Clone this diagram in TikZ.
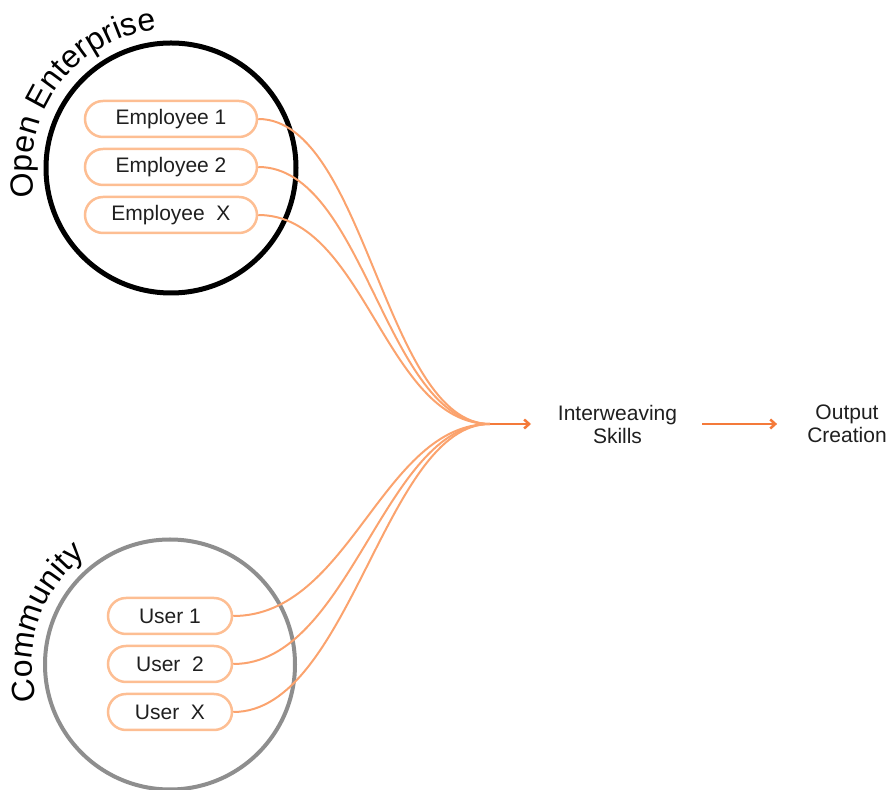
\documentclass[tikz,border=0pt]{standalone}
\usepackage{fontspec}
\setmainfont{Liberation Sans}
\usetikzlibrary{decorations.text,arrows.meta}
\definecolor{boxor}{HTML}{FDBE93}
\definecolor{curveor}{HTML}{FBA36E}
\definecolor{arrowor}{HTML}{F47A3A}
\definecolor{commgray}{HTML}{8E8E8E}
\newcommand\lblfont{\fontsize{32}{38}\selectfont}
\begin{document}
\begin{tikzpicture}[x=1pt,y=1pt,
  group/.style={circle, inner sep=0pt, minimum size=250pt},
  member/.style={draw=boxor, line width=2.5pt, rounded corners=18pt, minimum height=36pt,
    inner sep=0pt, font=\fontsize{21}{25}\selectfont, text=black!88},
  link/.style={draw=curveor, line width=2pt},
  flow/.style={draw=arrowor, line width=2.5pt, -{Straight Barb[length=5pt,width=9pt]}},
  stagetext/.style={align=center, inner sep=0pt, font=\fontsize{21}{23}\selectfont, text=black!88}
]
\useasboundingbox (0,0) rectangle (892,790);

% groups
\node[group, draw=black, line width=5pt] (ent) at (171,622) {};
\node[group, draw=commgray, line width=4pt] (comm) at (170,125.5) {};

% curved labels
\path[decorate, decoration={text along path, text={|\lblfont|Open Enterprise}}]
  (ent.center) ++(192:139) arc[start angle=192, end angle=80, radius=139];
\path[decorate, decoration={text along path, text={|\lblfont|Community}}]
  (comm.center) ++(195:138) arc[start angle=195, end angle=110, radius=138];

% members
\node[member, minimum width=172pt] (e1) at (171,671) {Employee 1};
\node[member, minimum width=172pt] (e2) at (171,623) {Employee 2};
\node[member, minimum width=172pt] (ex) at (171,575) {Employee~~X};
\node[member, minimum width=124pt] (u1) at (170,174) {User 1};
\node[member, minimum width=124pt] (u2) at (170,126) {User~~2};
\node[member, minimum width=124pt] (ux) at (170,78) {User~~X};

% convergence
\coordinate (conv) at (490,366);
\coordinate (tip) at (531,366);

\draw[link] (e1.east) .. controls +(107,0) and +(-105,0) .. (conv);
\draw[link] (e2.east) .. controls +(107,0) and +(-105,0) .. (conv);
\draw[link] (ex.east) .. controls +(107,0) and +(-105,0) .. (conv);
\draw[link] (u1.east) .. controls +(117,0) and +(-108,0) .. (conv);
\draw[link] (u2.east) .. controls +(117,0) and +(-106,0) .. (conv);
\draw[link] (ux.east) .. controls +(117,0) and +(-105,0) .. (conv);

\draw[flow] (conv) -- (tip);

% stages
\node[stagetext] (inter) at (617.5,366) {Interweaving\\Skills};
\node[stagetext] (out) at (847,366) {Output\\Creation};

\draw[flow, shorten <=25pt, shorten >=30pt] (inter.east) -- (out.west);
\end{tikzpicture}
\end{document}
